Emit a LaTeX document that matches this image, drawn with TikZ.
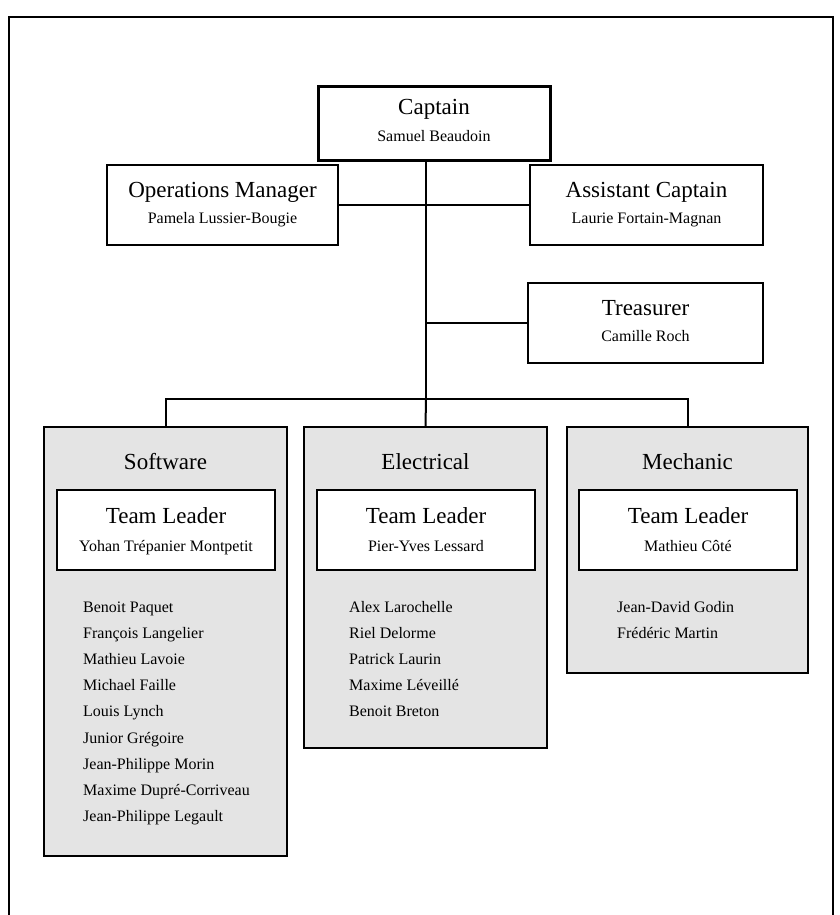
\documentclass[tikz,border=0pt]{standalone}
\usepackage{fontspec}
\setmainfont{Liberation Serif}
\definecolor{teamgray}{HTML}{E4E4E4}
\tikzset{
  box/.style={draw=black, line width=2pt, fill=white, inner sep=0pt},
  capbox/.style={box, line width=3pt},
  teambox/.style={draw=black, line width=2pt, fill=teamgray, inner sep=0pt},
  ttl/.style={anchor=base, inner sep=0pt, font=\fontsize{23}{27}\selectfont},
  nm/.style={anchor=base, inner sep=0pt, font=\fontsize{16}{19}\selectfont},
  mem/.style={anchor=base west, inner sep=0pt, font=\fontsize{16}{19}\selectfont},
  conn/.style={draw=black, line width=2pt}
}
\newcommand{\boxat}[6]{% name, style, x1, y1, x2, y2
  \node[#2, minimum width={#5-#3}, minimum height={#6-#4}] (#1) at ({(#3+#5)/2},{(#4+#6)/2}) {};}
\begin{document}
\begin{tikzpicture}[x=1pt,y=-1pt]
\useasboundingbox (0,0) rectangle (840,915);
% frame
\draw[line width=2pt] (9,925) -- (9,17) -- (833,17) -- (833,925);

% boxes
\boxat{captain}{capbox}{318}{87}{550}{160}
\boxat{ops}{box}{107}{165}{338}{245}
\boxat{asst}{box}{530}{165}{763}{245}
\boxat{treas}{box}{528}{283}{763}{363}
\boxat{sw}{teambox}{44}{427}{287}{856}
\boxat{el}{teambox}{304}{427}{547}{748}
\boxat{mech}{teambox}{567}{427}{808}{673}
\boxat{swl}{box}{57}{490}{275}{570}
\boxat{ell}{box}{317}{490}{535}{570}
\boxat{mechl}{box}{579}{490}{797}{570}

% connectors
\coordinate (bus) at (426,399);
\draw[conn] (captain.south -| bus) -- (bus);
\draw[conn] (ops.east) -- (asst.west);
\draw[conn] (bus |- treas.west) -- (treas.west);
\draw[conn] (sw.north) |- (bus) -| (mech.north);
\draw[conn] (bus) -- (el.north);

% texts
\node[ttl] (captainT) at (434,115) {Captain};
\node[nm] (captainN) at (434,141) {Samuel Beaudoin};
\node[ttl] (opsT) at (222.5,197) {Operations Manager};
\node[nm] (opsN) at (222.5,223) {Pamela Lussier-Bougie};
\node[ttl] (asstT) at (646.5,197) {Assistant Captain};
\node[nm] (asstN) at (646.5,223) {Laurie Fortain-Magnan};
\node[ttl] (treasT) at (645.5,315) {Treasurer};
\node[nm] (treasN) at (645.5,341) {Camille Roch};

\node[ttl] (swT) at (165.5,469) {Software};
\node[ttl] (elT) at (425.5,469) {Electrical};
\node[ttl] (mechT) at (687.5,469) {Mechanic};

\node[ttl] (swlT) at (166,523) {Team Leader};
\node[nm] (swlN) at (166,551) {Yohan Trépanier Montpetit};
\node[ttl] (ellT) at (426,523) {Team Leader};
\node[nm] (ellN) at (426,551) {Pier-Yves Lessard};
\node[ttl] (mechlT) at (688,523) {Team Leader};
\node[nm] (mechlN) at (688,551) {Mathieu Côté};

\foreach \n [count=\i from 0] in {Benoit Paquet, François Langelier, Mathieu Lavoie, Michael Faille, Louis Lynch, Junior Grégoire, Jean-Philippe Morin, Maxime Dupré-Corriveau, Jean-Philippe Legault}
  \node[mem] (swm\i) at (83,{612+26.2*\i}) {\n};
\foreach \n [count=\i from 0] in {Alex Larochelle, Riel Delorme, Patrick Laurin, Maxime Léveillé, Benoit Breton}
  \node[mem] (elm\i) at (349,{612+26.2*\i}) {\n};
\foreach \n [count=\i from 0] in {Jean-David Godin, Frédéric Martin}
  \node[mem] (mechm\i) at (617,{612+26.2*\i}) {\n};
\end{tikzpicture}
\end{document}
